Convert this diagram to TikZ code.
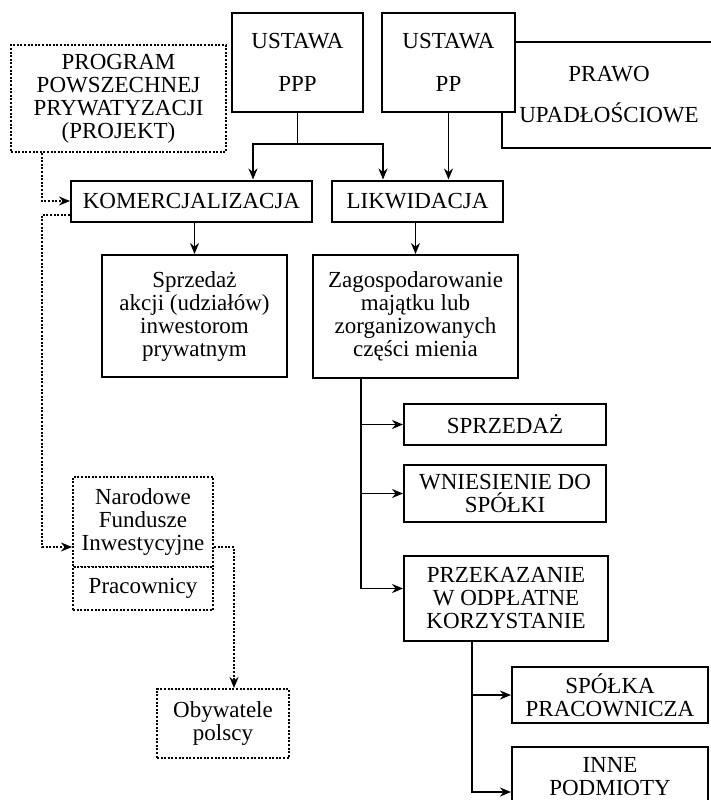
\documentclass[tikz,border=0pt]{standalone}
\usepackage{fontspec}
\setmainfont{Liberation Serif}
\usetikzlibrary{arrows.meta,positioning}

\begin{document}
\begin{tikzpicture}[x=1pt,y=-1pt,>={Stealth[length=11pt,width=9pt]}]
          \useasboundingbox (0,0) rectangle (711,800);

          \tikzstyle{every node}=[font=\fontsize{23}{23}\selectfont,align=center,inner sep=0pt]
          \tikzstyle{box}=[draw,line width=2pt,fill=white]
          \tikzstyle{dotbox}=[draw,line width=2pt,dash pattern=on 2pt off 1.6pt,fill=white]
          \tikzstyle{link}=[line width=1.8pt]
          \tikzstyle{dotlink}=[line width=2pt,dash pattern=on 2pt off 1.6pt]

          % ustawy
          \node[box,minimum width=214pt,minimum height=106pt] (prawo) at (609,95) {PRAWO\\[18pt]UPADŁOŚCIOWE};
          \node[box,minimum width=131pt,minimum height=99pt] (ppp) at (297.5,62.5) {USTAWA\\[20pt]PPP};
          \node[box,minimum width=133pt,minimum height=99pt] (pp) at (448.5,62.5) {USTAWA\\[20pt]PP};
          \node[dotbox,minimum width=215pt,minimum height=107pt] (program) at (118.5,98.5) {PROGRAM\\POWSZECHNEJ\\PRYWATYZACJI\\(PROJEKT)};

          % drugi poziom
          \node[box,minimum width=241pt,minimum height=41pt] (kom) at (191.5,201) {KOMERCJALIZACJA};
          \node[box,minimum width=171pt,minimum height=41pt] (likw) at (417.5,201) {LIKWIDACJA};

          % trzeci poziom
          \node[box,minimum width=185pt,minimum height=122pt] (sprz) at (194.5,316) {Sprzedaż\\akcji (udziałów)\\inwestorom\\prywatnym};
          \node[box,minimum width=205pt,minimum height=123pt] (zag) at (415.5,316.5) {Zagospodarowanie\\majątku lub\\zorganizowanych\\części mienia};

          % formy zagospodarowania
          \node[box,minimum width=202pt,minimum height=41pt] (sprzedaz) at (505,424.5) {SPRZEDAŻ};
          \node[box,minimum width=202pt,minimum height=57pt] (wnies) at (505,493.5) {WNIESIENIE DO\\SPÓŁKI};
          \node[box,minimum width=204pt,minimum height=85pt] (przek) at (506,598.5) {PRZEKAZANIE\\W ODPŁATNE\\KORZYSTANIE};
          \node[box,minimum width=196pt,minimum height=56pt] (spolka) at (610,695) {SPÓŁKA\\PRACOWNICZA};
          \node[box,minimum width=196pt,minimum height=59pt] (inne) at (610,776.5) {INNE\\PODMIOTY};

          % NFI
          \node[dotbox,minimum width=140pt,minimum height=90pt] (nfi) at (143,522) {Narodowe\\Fundusze\\Inwestycyjne};
          \node[dotbox,minimum width=140pt,minimum height=43pt] (prac) at (143,588.5) {Pracownicy};
          \node[dotbox,minimum width=132pt,minimum height=69pt] (oby) at (223,723.5) {Obywatele\\polscy};

          % punkty pomocnicze
          \coordinate (pt) at (42,0);
          \coordinate (zt) at (361,0);
          \coordinate (pk) at (472,0);
          \coordinate (ot) at (234,0);
          \coordinate (nfiin) at ([yshift=-25pt]nfi.west);
          \coordinate (nfiout) at ([yshift=-25pt]nfi.east);

          % strzalki
          \draw[link] (ppp.south) -- ++(0,31) coordinate (jppp);
          \draw[link,->] (jppp) -| ([xshift=61.5pt]kom.north);
          \draw[link,->] (jppp) -| ([xshift=-34.5pt]likw.north);
          \draw[link,->] (pp.south) -- (pp.south |- likw.north);
          \draw[link,->] (sprz.north |- kom.south) -- (sprz.north);
          \draw[link,->] (zag.north |- likw.south) -- (zag.north);

          \draw[link,->] (zt |- zag.south) |- (sprzedaz.west);
          \draw[link,->] (zt |- zag.south) |- (wnies.west);
          \draw[link,->] (zt |- zag.south) |- ([yshift=10pt]przek.west);
          \draw[link,->] (pk |- przek.south) |- (spolka.west);
          \draw[link,->] (pk |- przek.south) |- ([yshift=-15.5pt]inne.west);

          % kropkowane
          \draw[dotlink,->] (pt |- program.south) |- (kom.west);
          \draw[dotlink,->] ([yshift=-14pt]kom.west) -| (pt |- nfiin) -- (nfiin);
          \draw[dotlink,->] (nfiout) -| (ot |- oby.north);
\end{tikzpicture}
\end{document}
